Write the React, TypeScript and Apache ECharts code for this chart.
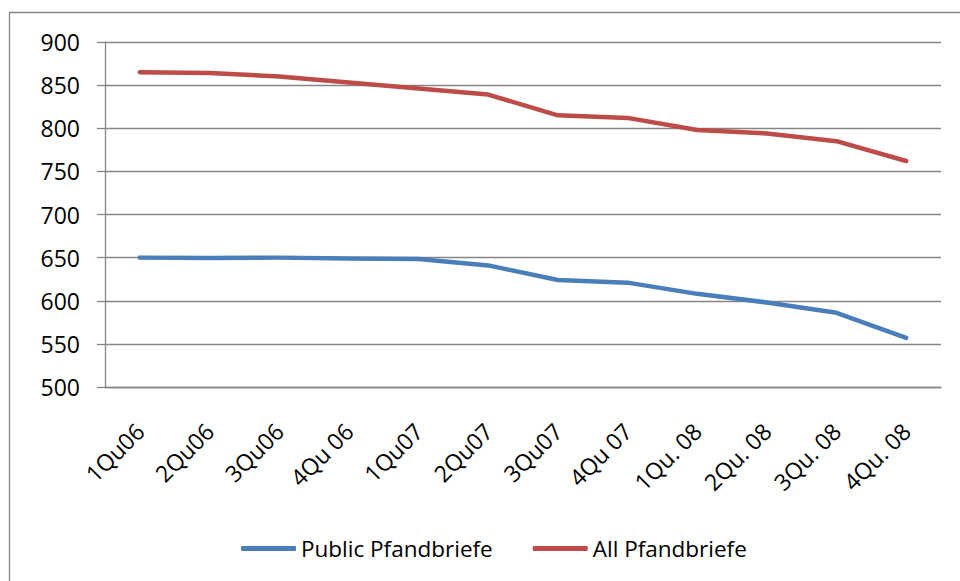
import React, { useEffect, useRef } from "react";
import * as echarts from "echarts";

const categories = ["1Qu06", "2Qu06", "3Qu06", "4Qu 06", "1Qu07", "2Qu07", "3Qu07", "4Qu 07", "1Qu. 08", "2Qu. 08", "3Qu. 08", "4Qu. 08"];
const publicPfandbriefe = [650, 649.5, 650, 649, 648.5, 641, 624, 621, 608, 598, 586, 557];
const allPfandbriefe = [865, 864, 860, 853, 846, 839, 815, 812, 798, 794, 785, 762];
const yMin = 500;
const yMax = 900;
const yInterval = 50;

const FONT = "'Open Sans', 'Liberation Sans', sans-serif";

export default function App() {
  const ref = useRef<HTMLDivElement>(null);
  useEffect(() => {
    if (!ref.current) return;
    const chart = echarts.init(ref.current, undefined, { renderer: "svg" });
    chart.setOption({
      animation: false,
      backgroundColor: "#ffffff",
      textStyle: { fontFamily: FONT },
      graphic: [
        {
          type: "rect",
          shape: { x: 9.5, y: 12.5, width: 1000, height: 700 },
          style: { fill: "none", stroke: "#868686", lineWidth: 1.3 },
          silent: true,
          z: -10,
        },
      ],
      grid: { left: 105, right: 19, top: 42, bottom: 194, containLabel: false },
      legend: {
        left: 236,
        top: 532,
        icon: "roundRect",
        itemWidth: 55,
        itemHeight: 5,
        itemGap: 40,
        textStyle: { fontFamily: FONT, fontSize: 22.5, color: "#000" },
        data: ["Public Pfandbriefe", "All Pfandbriefe"],
      },
      xAxis: {
        type: "category",
        data: categories,
        boundaryGap: true,
        axisLine: { lineStyle: { color: "#868686", width: 1.3 } },
        axisTick: { length: 7, lineStyle: { color: "#868686", width: 1.3 } },
        axisLabel: {
          rotate: 45,
          margin: 40,
          interval: 0,
          fontFamily: FONT,
          fontSize: 23,
          color: "#000",
        },
      },
      yAxis: {
        type: "value",
        min: yMin,
        max: yMax,
        interval: yInterval,
        axisLine: { show: true, lineStyle: { color: "#868686", width: 1.3 } },
        axisTick: { show: true, length: 8, lineStyle: { color: "#868686", width: 1.3 } },
        splitLine: { lineStyle: { color: "#868686", width: 1.3 } },
        axisLabel: { margin: 25, fontFamily: FONT, fontSize: 23, color: "#000" },
      },
      series: [
        {
          name: "Public Pfandbriefe",
          type: "line",
          data: publicPfandbriefe,
          showSymbol: false,
          symbol: "none",
          itemStyle: { color: "#4A7EBB" },
          lineStyle: { color: "#4A7EBB", width: 4.5, cap: "round", join: "round" },
        },
        {
          name: "All Pfandbriefe",
          type: "line",
          data: allPfandbriefe,
          showSymbol: false,
          symbol: "none",
          itemStyle: { color: "#BE4B48" },
          lineStyle: { color: "#BE4B48", width: 4.5, cap: "round", join: "round" },
        },
      ],
    });
    return () => chart.dispose();
  }, []);
  return <div ref={ref} style={{ width: 960, height: 581, position: "absolute", left: 0, top: 0 }} />;
}
